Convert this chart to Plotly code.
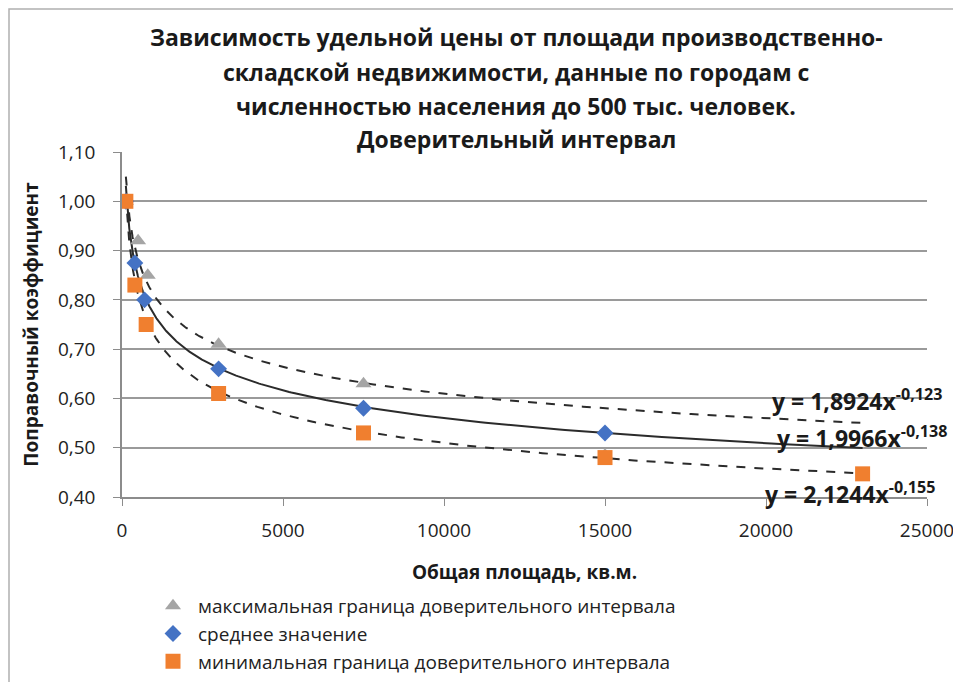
import numpy as np
import plotly.graph_objects as go

# ---- data ----
max_x = [120, 500, 800, 3000, 7500, 15000]
max_y = [1.00, 0.92, 0.85, 0.71, 0.63, 0.485]
mean_x = [120, 400, 700, 3000, 7500, 15000]
mean_y = [1.00, 0.875, 0.80, 0.66, 0.58, 0.53]
min_x = [120, 400, 750, 3000, 7500, 15000, 23000]
min_y = [1.00, 0.83, 0.75, 0.61, 0.53, 0.48, 0.447]

# power trendlines shown on the chart: y = a * x^b
trend_names = ["max", "mean", "min"]
trend_a = [1.8924, 1.9966, 2.1244]
trend_b = [-0.123, -0.138, -0.155]
trend_labels = ["y = 1,8924x<sup>-0,123</sup>", "y = 1,9966x<sup>-0,138</sup>", "y = 2,1244x<sup>-0,155</sup>"]
trend_x_range = [120, 23000]

legend_names = ["максимальная граница доверительного интервала",
                "среднее значение",
                "минимальная граница доверительного интервала"]
title_lines = ["Зависимость удельной цены от площади производственно-",
               "складской недвижимости, данные по городам с",
               "численностью населения до 500 тыс. человек.",
               "Доверительный интервал"]
x_title = "Общая площадь, кв.м."
y_title = "Поправочный коэффициент"
x_ticks = [0, 5000, 10000, 15000, 20000, 25000]
y_ticks = [0.40, 0.50, 0.60, 0.70, 0.80, 0.90, 1.00, 1.10]

FONT = "Open Sans, sans-serif"

# figure geometry (page has an 8px body margin)
OFF = 8
W, H = 961 - OFF, 682 - OFF
L, R, T = 122 - OFF, 961 - 927, 152 - OFF
B = H - (497 - OFF)
pw, ph = W - L - R, H - T - B


def px_x(page_x):
    return (page_x - OFF - L) / pw


def px_y(page_y):
    return (H - B - (page_y - OFF)) / ph


fig = go.Figure()

xs = np.geomspace(trend_x_range[0], trend_x_range[1], 400)
dashes = ["dash", "solid", "dash"]
for a, b, d in zip(trend_a, trend_b, dashes):
    fig.add_trace(go.Scatter(x=xs, y=a * xs ** b, mode="lines",
                             line=dict(color="#2b2b2b", width=2, dash=d),
                             showlegend=False, hoverinfo="skip"))

fig.add_trace(go.Scatter(x=max_x, y=max_y, mode="markers", name=legend_names[0],
                         marker=dict(symbol="triangle-up", size=14, color="#A5A5A5")))
fig.add_trace(go.Scatter(x=mean_x, y=mean_y, mode="markers", name=legend_names[1],
                         marker=dict(symbol="diamond", size=13, color="#4472C4")))
fig.add_trace(go.Scatter(x=min_x, y=min_y, mode="markers", name=legend_names[2],
                         marker=dict(symbol="square", size=15, color="#F07F2F")))

# title lines as separate annotations
title_py = [37, 72, 106, 139]
for txt, py in zip(title_lines, title_py):
    fig.add_annotation(text="<b>" + txt + "</b>", xref="paper", yref="paper",
                       x=px_x(516), y=px_y(py), xanchor="center", yanchor="middle",
                       showarrow=False, font=dict(family=FONT, size=23, color="#1a1a1a"))

# trendline equation labels
lab_pos = [(22835, 0.597), (22985, 0.522), (22612, 0.408)]
for txt, (lx, ly) in zip(trend_labels, lab_pos):
    fig.add_annotation(text="<b>" + txt + "</b>", x=lx, y=ly, xref="x", yref="y",
                       showarrow=False, xanchor="center", yanchor="middle",
                       font=dict(family=FONT, size=23, color="#1a1a1a"))

# outer chart border
fig.add_shape(type="rect", xref="paper", yref="paper",
              x0=px_x(9), x1=1.2, y0=-0.6, y1=px_y(9),
              line=dict(color="#b0b0b0", width=1.5), layer="below")

fig.update_layout(
    width=W, height=H,
    margin=dict(l=L, r=R, t=T, b=B, autoexpand=False),
    paper_bgcolor="white", plot_bgcolor="white",
    separators=", ",
    font=dict(family=FONT, size=18, color="#222"),
    showlegend=True,
    legend=dict(x=px_x(148), y=px_y(587), xanchor="left", yanchor="top",
                xref="paper", yref="paper", font=dict(family=FONT, size=19, color="#222"),
                tracegroupgap=0, itemsizing="trace", itemwidth=40, bgcolor="rgba(0,0,0,0)"),
    xaxis=dict(range=[0, 25000], tickvals=x_ticks, tickformat="d", showgrid=False,
               zeroline=False, showline=True, linecolor="#8c8c8c", linewidth=1.5,
               ticks="outside", ticklen=7, tickcolor="#8c8c8c", automargin=False,
               ticklabelstandoff=8,
               tickfont=dict(family=FONT, size=19, color="#222"),
               title=dict(text="<b>" + x_title + "</b>", standoff=24,
                          font=dict(family=FONT, size=19, color="#1a1a1a"))),
    yaxis=dict(range=[0.40, 1.10], tickvals=y_ticks, tickformat=".2f", showgrid=True,
               gridcolor="#9a9a9a", gridwidth=2, zeroline=False, showline=True,
               linecolor="#8c8c8c", linewidth=1.5, ticks="outside", ticklen=7, tickcolor="#8c8c8c",
               automargin=False, ticklabelstandoff=14,
               tickfont=dict(family=FONT, size=19, color="#222"),
               title=dict(text="<b>" + y_title + "</b>", standoff=14,
                          font=dict(family=FONT, size=19, color="#1a1a1a"))),
)

fig.write_html("out.html")
